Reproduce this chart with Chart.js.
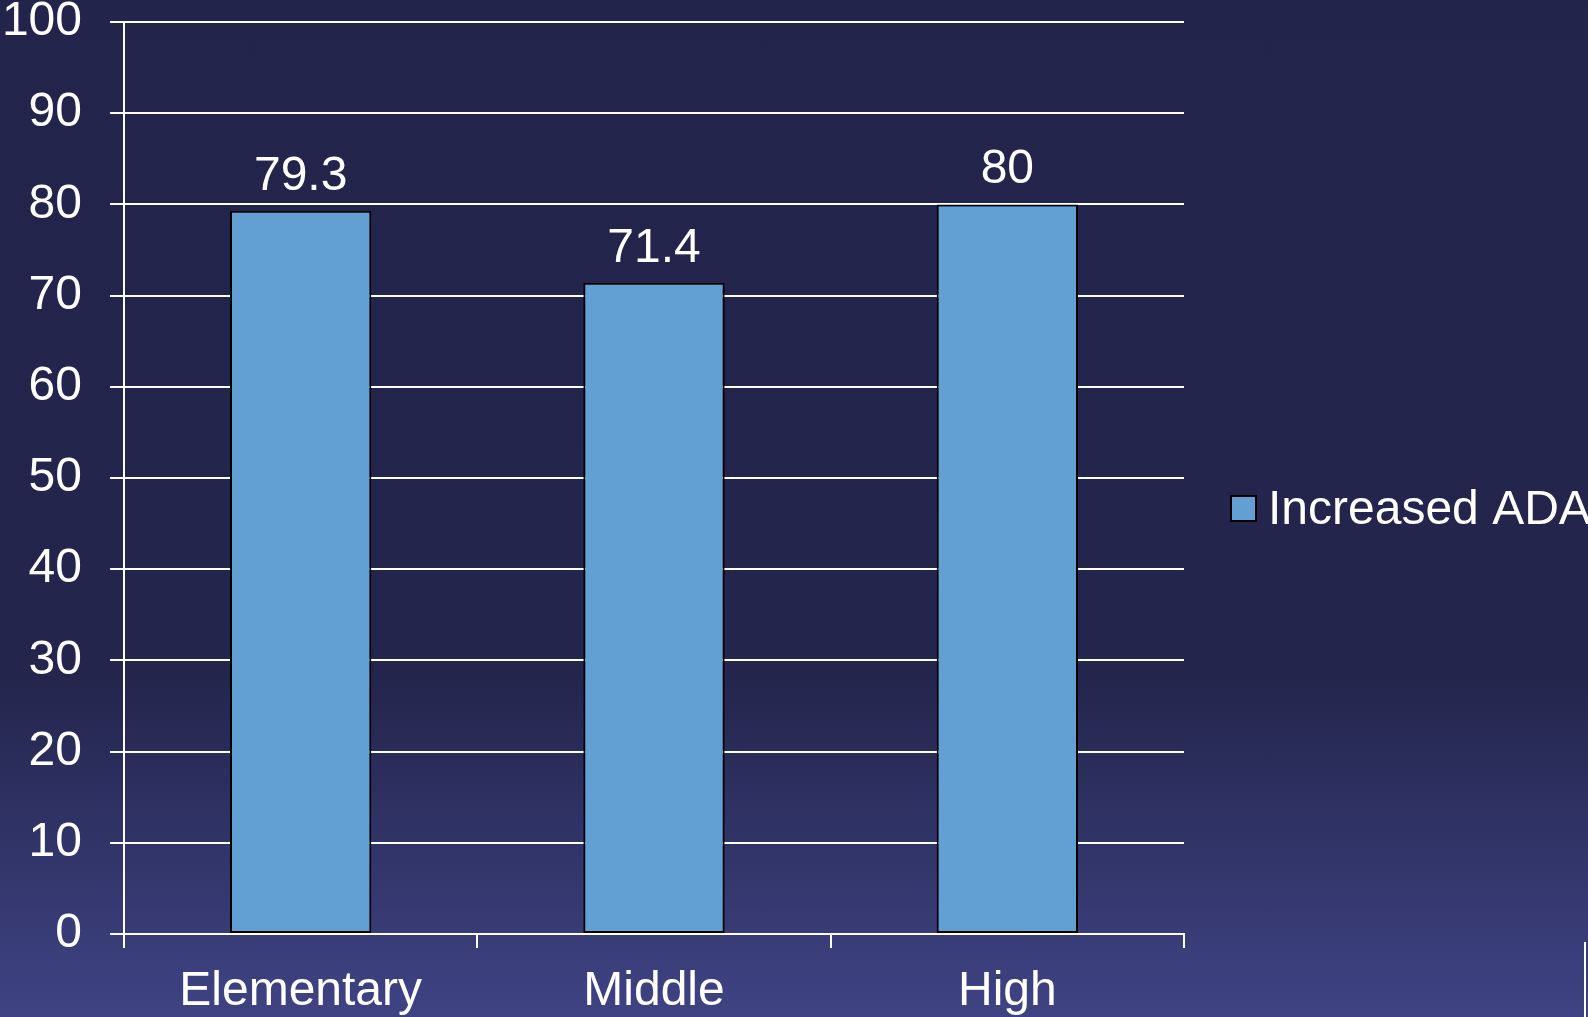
<!DOCTYPE html>
<html>
<head>
<meta charset="utf-8">
<title>Increased ADA by school level</title>
<script src="https://cdn.jsdelivr.net/npm/chart.js@4.4.1/dist/chart.umd.min.js"></script>
<style>
  html, body { margin: 0; padding: 0; overflow: hidden; }
  body {
    width: 1588px; height: 1017px; position: relative;
    background: linear-gradient(to bottom, #23244b 0%, #23254c 66%, #3f4383 100%);
  }
  #wrap { position: absolute; left: 0; top: 0; width: 1588px; height: 1017px; }
  .edge { position: absolute; left: 1584px; top: 942px; width: 2px; height: 75px; background: #ffffff; }
</style>
</head>
<body>
<div id="wrap"><canvas id="chart"></canvas></div>
<div class="edge"></div>
<script>
// Chart data
const categories = ['Elementary', 'Middle', 'High'];
const seriesName = 'Increased ADA';
const increasedAda = [79.3, 71.4, 80];
const yTicks = [0, 10, 20, 30, 40, 50, 60, 70, 80, 90, 100];

const FONT = '"Liberation Sans", Arial, sans-serif';
const BAR_COLOR = '#629fd2';

// Value printed above each bar, taken from the dataset itself
const valueLabels = {
  id: 'valueLabels',
  afterDatasetsDraw(chart) {
    const { ctx } = chart;
    const ds = chart.data.datasets[0];
    const meta = chart.getDatasetMeta(0);
    ctx.save();
    ctx.font = '48px ' + FONT;
    ctx.fillStyle = '#ffffff';
    ctx.textAlign = 'center';
    ctx.textBaseline = 'alphabetic';
    meta.data.forEach((bar, i) => {
      ctx.fillText(String(ds.data[i]), bar.x, bar.y - 21);
    });
    ctx.restore();
  }
};

// Single-entry legend to the right of the plot, vertically centred
const sideLegend = {
  id: 'sideLegend',
  afterDraw(chart) {
    const { ctx, chartArea } = chart;
    const ds = chart.data.datasets[0];
    const box = 25;
    const x = chartArea.right + 47;
    const cy = chart.height / 2;
    ctx.save();
    ctx.fillStyle = ds.backgroundColor;
    ctx.fillRect(x, cy - box / 2, box, box);
    ctx.lineWidth = 2;
    ctx.strokeStyle = '#000000';
    ctx.strokeRect(x, cy - box / 2, box, box);
    ctx.font = '48px ' + FONT;
    ctx.fillStyle = '#ffffff';
    ctx.textAlign = 'left';
    ctx.textBaseline = 'alphabetic';
    ctx.fillText(ds.label, x + box + 12, cy + 15.5);
    ctx.restore();
  }
};

new Chart(document.getElementById('chart'), {
  type: 'bar',
  data: {
    labels: categories,
    datasets: [{
      label: seriesName,
      data: increasedAda,
      backgroundColor: BAR_COLOR,
      borderColor: '#000000',
      borderWidth: 2,
      borderSkipped: false,
      categoryPercentage: 1.0,
      barPercentage: 0.4
    }]
  },
  options: {
    responsive: true,
    maintainAspectRatio: false,
    animation: false,
    devicePixelRatio: 1,
    layout: { padding: { top: 22, right: 404, bottom: 0, left: 0 } },
    plugins: {
      legend: { display: false },
      tooltip: { enabled: false },
      title: { display: false }
    },
    scales: {
      x: {
        grid: {
          display: true,
          offset: true,
          drawOnChartArea: false,
          drawTicks: true,
          tickLength: 14,
          color: '#ffffff',
          lineWidth: 2
        },
        border: { display: true, color: '#ffffff', width: 2 },
        ticks: {
          color: '#ffffff',
          font: { family: FONT, size: 48 },
          padding: 15,
          maxRotation: 0,
          autoSkip: false
        },
        afterFit(scale) {
          scale.height = 83;
          scale.paddingLeft = 0;
          scale.paddingRight = 0;
        }
      },
      y: {
        min: 0,
        max: 100,
        afterBuildTicks(scale) {
          scale.ticks = yTicks.map(v => ({ value: v }));
        },
        grid: {
          color: '#ffffff',
          lineWidth: 2,
          drawTicks: true,
          tickLength: 14
        },
        border: { display: true, color: '#ffffff', width: 2 },
        ticks: {
          color: '#ffffff',
          font: { family: FONT, size: 48 },
          padding: 28
        },
        afterFit(scale) {
          scale.width = 124;
          scale.paddingTop = 0;
          scale.paddingBottom = 0;
        }
      }
    }
  },
  plugins: [valueLabels, sideLegend]
});
</script>
</body>
</html>
